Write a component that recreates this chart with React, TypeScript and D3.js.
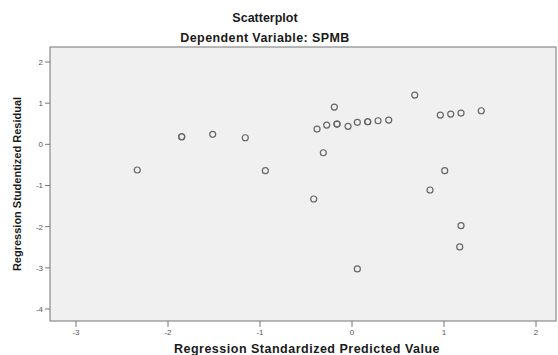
import React from "react";
import * as d3 from "d3";

const predicted: number[] = [
  -2.334, -1.851, -1.851, -1.514, -1.160, -0.942, -0.416, -0.380, -0.312, -0.275,
  -0.192, -0.163, -0.163, -0.043, 0.058, 0.058, 0.171, 0.171, 0.283, 0.399,
  0.682, 0.848, 0.960, 1.008, 1.073, 1.171, 1.185, 1.185, 1.405,
];
const residual: number[] = [
  -0.623, 0.184, 0.184, 0.243, 0.160, -0.641, -1.328, 0.371, -0.204, 0.468,
  0.905, 0.493, 0.493, 0.437, 0.534, -3.027, 0.549, 0.549, 0.573, 0.590,
  1.197, -1.109, 0.711, -0.641, 0.735, -2.493, -1.976, 0.760, 0.816,
];
const xTicks: number[] = [-3, -2, -1, 0, 1, 2];
const yTicks: number[] = [2, 1, 0, -1, -2, -3, -4];

const title = "Scatterplot";
const subtitle = "Dependent Variable: SPMB";
const xTitle = "Regression Standardized Predicted Value";
const yTitle = "Regression Studentized Residual";

export default function App() {
  const W = 558, H = 355;
  const left = 50, right = 556, top = 47, bottom = 321;
  const x0 = -3 - (76 - left) / 92;
  const x1 = 2 + (right - 536) / 92;
  const y1 = 2 + (62 - top) / 41.2;
  const y0 = -4 - (bottom - 309) / 41.2;
  const x = d3.scaleLinear().domain([x0, x1]).range([left, right]);
  const y = d3.scaleLinear().domain([y0, y1]).range([bottom, top]);
  const font = "'Liberation Sans', Arial, sans-serif";
  return (
    <svg width={W} height={H} style={{ position: "absolute", left: 0, top: 0, background: "#fff" }} fontFamily={font}>
      <text x={265} y={21.5} textAnchor="middle" fontSize={12.5} fontWeight="bold" fill="#1a1a1a">{title}</text>
      <text x={265} y={41.5} textAnchor="middle" fontSize={12.5} fontWeight="bold" fill="#1a1a1a" letterSpacing={0.4}>{subtitle}</text>
      <rect x={left} y={top} width={right - left} height={bottom - top} fill="#f0f0f0" stroke="#8a8a8a" strokeWidth={1.2} />
      {yTicks.map((t) => (
        <g key={"y" + t}>
          <line x1={left - 5} x2={left} y1={y(t)} y2={y(t)} stroke="#777" strokeWidth={1} />
          <text x={left - 7} y={y(t) + 3} textAnchor="end" fontSize={8} fill="#555">{t}</text>
        </g>
      ))}
      {xTicks.map((t) => (
        <g key={"x" + t}>
          <line x1={x(t)} x2={x(t)} y1={bottom} y2={bottom + 6} stroke="#777" strokeWidth={1} />
          <text x={x(t)} y={bottom + 14} textAnchor="middle" fontSize={8} fill="#555">{t}</text>
        </g>
      ))}
      {predicted.map((p, i) => (
        <circle key={i} cx={x(p)} cy={y(residual[i])} r={3} fill="none" stroke="#666" strokeWidth={1.2} />
      ))}
      <text x={307} y={353} textAnchor="middle" fontSize={12.5} fontWeight="bold" fill="#1a1a1a" letterSpacing={0.5}>{xTitle}</text>
      <text transform={`translate(21,${(top + bottom) / 2}) rotate(-90)`} textAnchor="middle" fontSize={11} fontWeight="bold" fill="#1a1a1a">{yTitle}</text>
    </svg>
  );
}
